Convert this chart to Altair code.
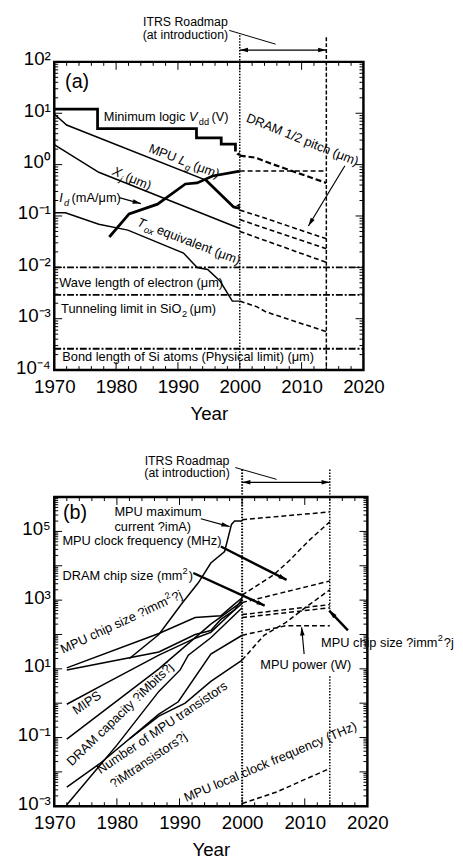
import math
import altair as alt
import pandas as pd

FONT = "Liberation Sans"

# ---------------- shared axis values ----------------
year_ticks = [1970, 1980, 1990, 2000, 2010, 2020]
minor_years = list(range(1970, 2021, 2))
itrs_years = [2000, 2014]
a_ylabels = [1e-4, 1e-3, 1e-2, 1e-1, 1, 10, 100]
b_ylabels = [1e-3, 1e-1, 10, 1e3, 1e5]

# ---------------- panel (a) data ----------------
a_vdd_year = [1970, 1977, 1977, 1993, 1993, 1997, 1997, 1999.3, 1999.3]
a_vdd_val = [12, 12, 5, 5, 3.3, 3.3, 2.5, 2.5, 1.8]
a_id_year = [1978.9, 1982.1, 1986.7, 1991.2, 1993.1, 1995.6, 2000]
a_id_val = [0.039, 0.11, 0.17, 0.42, 0.44, 0.6, 0.75]
a_lg_year = [1970, 1972, 1994.5, 1999, 2000]
a_lg_val = [9.7, 5.9, 0.5, 0.15, 0.14]
a_lg_end_year = [1994.5, 1999, 2000]
a_lg_end_val = [0.5, 0.15, 0.14]
a_xj_year = [1970, 1977.2, 2000]
a_xj_val = [2.46, 0.71, 0.057]
a_tox_year = [1970, 1971.8, 1977.2, 1981.9, 1990.9, 1993.1, 1994.8, 1996.8, 1998.8, 2000]
a_tox_val = [0.115, 0.115, 0.069, 0.053, 0.019, 0.0099, 0.0091, 0.0054, 0.0022, 0.0022]
# small markers where the history ends
a_mark_year = [1999.7, 1999.7]
a_mark_val = [1.6, 0.16]
# ITRS projections (dashed)
a_vdd_p_year = [2000, 2002.5, 2005, 2014]
a_vdd_p_val = [1.5, 1.37, 1.05, 0.44]
a_id_p_year = [2000, 2014]
a_id_p_val = [0.75, 0.75]
a_p1_year = [2000, 2003, 2014]
a_p1_val = [0.13, 0.1, 0.036]
a_p2_year = [2000, 2014]
a_p2_val = [0.085, 0.023]
a_p3_year = [2000, 2014]
a_p3_val = [0.05, 0.0125]
a_tox_p_year = [2000, 2002.8, 2004.2, 2014]
a_tox_p_val = [0.0022, 0.0017, 0.00136, 0.00056]
# physical limits
a_limit_val = [0.01, 0.0029, 0.00026]

# ---------------- panel (b) data ----------------
b_cur_year = [1982, 1986.7, 1990.5, 1993, 1995, 1997.2, 1998.3, 1998.8, 2000]
b_cur_val = [20, 100, 850, 3200, 12000, 26000, 160000, 200000, 200000]
b_mpuchip_year = [1972, 1986.7, 1992.5, 1996.6, 1998.5, 2000]
b_mpuchip_val = [10.7, 107, 310, 350, 690, 1170]
b_dramchip_year = [1972, 1986.7, 1992.5, 1995, 1996.6, 1998.8, 2000]
b_dramchip_val = [9.3, 31, 100, 130, 275, 520, 800]
b_mips_year = [1972, 1978.8, 1986.7, 1992.5, 1995, 1998.8, 2000]
b_mips_val = [0.93, 4.3, 25, 78, 115, 520, 1100]
b_clk_year = [1972, 1986.7, 1995, 2000]
b_clk_val = [0.09, 10, 200, 900]
b_dramcap_year = [1972, 1980, 1986.7, 1990.1, 1991.4, 1995, 2000]
b_dramcap_val = [0.0011, 0.06, 2.2, 9.3, 25, 80, 600]
b_tr_year = [1972, 1977.2, 1986.7, 1989.8, 1995, 2000]
b_tr_val = [0.0036, 0.017, 0.48, 1.1, 27, 95]
b_pw_year = [1982, 1986.7, 1990.9, 1995, 2000]
b_pw_val = [0.091, 0.42, 1.0, 4.3, 18]
# ITRS projections (dashed)
b_cur_p_year = [2000, 2014]
b_cur_p_val = [220000, 370000]
b_steep_p_year = [2000, 2005, 2007.6, 2010.7, 2014]
b_steep_p_val = [1400, 5400, 14500, 55000, 190000]
b_d3_p_year = [2000, 2014]
b_d3_p_val = [850, 3600]
b_d4_p_year = [2000, 2014]
b_d4_p_val = [380, 740]
b_d5_p_year = [2000, 2014]
b_d5_p_val = [310, 600]
b_pow_p_year = [2000, 2007, 2014]
b_pow_p_val = [95, 180, 180]
b_tr_p_year = [2000, 2003.5, 2007, 2011, 2014]
b_tr_p_val = [18, 95, 225, 800, 2000]
b_thz_p_year = [2000, 2005.5, 2014]
b_thz_p_val = [0.0012, 0.0026, 0.0126]

# ---------------- layout constants ----------------
W_A, H_A = 314, 313
W_B, H_B = 318, 314
DOM_A = [1e-4, 1e2]
DOM_B = [1e-3, 1e6]

CW = {
    " ": 278, "(": 333, ")": 333, "/": 278, "?": 556, "μ": 576, "²": 333,
    "A": 667, "B": 667, "C": 722, "D": 722, "E": 667, "H": 722, "I": 278, "L": 556,
    "M": 833, "N": 722, "O": 778, "P": 667, "R": 722, "S": 667, "T": 611, "U": 722,
    "V": 667, "W": 944, "X": 667, "a": 556, "b": 556, "c": 500, "d": 556, "e": 556,
    "f": 278, "g": 556, "h": 556, "i": 222, "j": 222, "k": 500, "l": 222, "m": 833,
    "n": 556, "o": 556, "p": 556, "q": 556, "r": 333, "s": 500, "t": 278, "u": 556,
    "v": 500, "w": 722, "x": 500, "y": 500, "z": 500,
}


def tw(s, size):
    return sum(CW.get(c, 556) for c in s) * size / 1000.0


def to_px(year, val, W, H, dom):
    l0, l1 = math.log10(dom[0]), math.log10(dom[1])
    return (year - 1970) / 50.0 * W, H * (l1 - math.log10(val)) / (l1 - l0)


EXP = "['⁻⁴','⁻³','⁻²','⁻¹','⁰','¹','²','³','⁴','⁵','⁶']"
LABEL_EXPR = "'10' + " + EXP + "[round(log(datum.value)/LN10) + 4]"

AX_X = alt.Axis(values=year_ticks, format="d", title="Year", ticks=False, domain=False,
                grid=False, labelFont=FONT, labelFontSize=19, labelColor="black",
                labelPadding=8, labelFlush=False, titleFont=FONT, titleFontSize=19,
                titleFontWeight="normal", titleColor="black", titlePadding=8)


def ax_y(vals):
    return alt.Axis(values=vals, labelExpr=LABEL_EXPR, title=None, ticks=False, domain=False,
                    grid=False, labelFont=FONT, labelFontSize=19, labelColor="black",
                    labelPadding=4, labelFlush=False, labelOffset=-3)


class P:
    """Holds the shared scales and axes of one panel."""

    def __init__(self, W, H, dom, yvals):
        self.W, self.H, self.dom = W, H, dom
        self.xs = alt.Scale(domain=[1970, 2020], nice=False, zero=False)
        self.ys = alt.Scale(type="log", domain=dom, nice=False)
        self.ay = ax_y(yvals)

    def X(self, f):
        return alt.X(f, type="quantitative", scale=self.xs, axis=AX_X)

    def Y(self, f):
        return alt.Y(f, type="quantitative", scale=self.ys, axis=self.ay)


def tick_layers(p, lo, hi):
    maj_y = [10.0 ** e for e in range(lo, hi + 1)]
    min_y = [m * 10.0 ** e for e in range(lo, hi) for m in range(2, 10)]
    min_x = [y for y in minor_years if y % 10]
    out = []
    for vals, L in ((year_ticks, 8), (min_x, 4)):
        base = alt.Chart(pd.DataFrame({"year": vals})).mark_rule(color="black", strokeWidth=1)
        out.append(base.encode(x=p.X("year"), y=alt.value(p.H), y2=alt.value(p.H - L)))
        out.append(base.encode(x=p.X("year"), y=alt.value(0), y2=alt.value(L)))
    for vals, L in ((maj_y, 8), (min_y, 4)):
        base = alt.Chart(pd.DataFrame({"val": vals})).mark_rule(color="black", strokeWidth=1)
        out.append(base.encode(y=p.Y("val"), x=alt.value(0), x2=alt.value(L)))
        out.append(base.encode(y=p.Y("val"), x=alt.value(p.W), x2=alt.value(p.W - L)))
    return out


def lines_layer(p, series, **mark):
    rows = []
    for name, (xx, yy) in series.items():
        for i, (a, b) in enumerate(zip(xx, yy)):
            rows.append({"s": name, "i": i, "year": a, "val": b})
    return alt.Chart(pd.DataFrame(rows)).mark_line(color="black", clip=False, **mark).encode(
        x=p.X("year"), y=p.Y("val"), detail="s:N", order="i:Q")


def text_layers(p, ax, ay, pieces, size=13, angle=0):
    out = []
    dx = 0.0
    for txt, kind in pieces:
        fs = size
        dy = size * 0.35
        style = "normal"
        extra = 0.0
        if kind in ("sub", "isub"):
            fs = size * 0.72
            dy += size * 0.28
            extra = 2.5
        if kind == "sup":
            fs = size * 0.72
            dy -= size * 0.42
            extra = 1.0
        if kind in ("i", "isub"):
            style = "italic"
            extra = max(extra, 1.2)
        d = pd.DataFrame({"x": [ax], "y": [ay], "t": [txt]})
        out.append(alt.Chart(d).mark_text(
            align="left", baseline="alphabetic", dx=dx, dy=dy, angle=angle % 360,
            fontSize=fs, fontStyle=style, font=FONT, color="black", clip=False).encode(
            x=p.X("x"), y=p.Y("y"), text="t:N"))
        dx += tw(txt, fs) + extra
    return out


HEAD = "M0,0L0.55,2L-0.55,2Z"


def arrow_layers(p, arrows, width):
    rows, heads = [], []
    for (x1, y1, x2, y2) in arrows:
        p1 = to_px(x1, y1, p.W, p.H, p.dom)
        p2 = to_px(x2, y2, p.W, p.H, p.dom)
        ang = math.degrees(math.atan2(p2[0] - p1[0], -(p2[1] - p1[1]))) % 360
        rows.append({"x": x1, "y": y1, "x2": x2, "y2": y2})
        heads.append({"x": x2, "y": y2, "a": ang})
    lines = alt.Chart(pd.DataFrame(rows)).mark_rule(color="black", strokeWidth=width, clip=False).encode(
        x=p.X("x"), y=p.Y("y"), x2="x2:Q", y2="y2:Q")
    hd = alt.Chart(pd.DataFrame(heads)).mark_point(
        shape=HEAD, filled=True, color="black", size=70, opacity=1, strokeWidth=0, clip=False).encode(
        x=p.X("x"), y=p.Y("y"), angle=alt.Angle("a:Q", scale=None))
    return [lines, hd]


def itrs_layers(p, y_text1, y_text2, slant, y_arrow, vtop, dash2000, dash2014, w2000, segs2014):
    out = []
    tx = 1991.2
    for txt, yp in (("ITRS Roadmap", y_text1), ("(at introduction)", y_text2)):
        d = pd.DataFrame({"x": [tx], "t": [txt]})
        out.append(alt.Chart(d).mark_text(align="center", baseline="middle", fontSize=12.5,
                                          font=FONT, color="black", clip=False).encode(
            x=p.X("x"), y=alt.value(yp), text="t:N"))
    d = pd.DataFrame({"x": [slant[0]], "x2": [slant[1]]})
    out.append(alt.Chart(d).mark_rule(color="black", strokeWidth=1, clip=False).encode(
        x=p.X("x"), x2="x2:Q", y=alt.value(slant[2]), y2=alt.value(slant[3])))
    d = pd.DataFrame({"x": [itrs_years[0]], "x2": [itrs_years[1]]})
    out.append(alt.Chart(d).mark_rule(color="black", strokeWidth=1.2, clip=False).encode(
        x=p.X("x"), x2="x2:Q", y=alt.value(y_arrow)))
    d = pd.DataFrame({"x": itrs_years, "a": [270, 90]})
    out.append(alt.Chart(d).mark_point(shape=HEAD, filled=True, color="black", size=70,
                                       opacity=1, strokeWidth=0, clip=False).encode(
        x=p.X("x"), y=alt.value(y_arrow), angle=alt.Angle("a:Q", scale=None)))
    d = pd.DataFrame({"x": [itrs_years[0]]})
    out.append(alt.Chart(d).mark_rule(color="black", strokeWidth=w2000, strokeDash=dash2000, clip=False).encode(
        x=p.X("x"), y=alt.value(vtop), y2=alt.value(p.H)))
    for (t0, t1) in segs2014:
        d = pd.DataFrame({"x": [itrs_years[1]]})
        out.append(alt.Chart(d).mark_rule(color="black", strokeWidth=1.5, strokeDash=dash2014, clip=False).encode(
            x=p.X("x"), y=alt.value(t0), y2=alt.value(t1)))
    return out


# ================= panel (a) =================
pa = P(W_A, H_A, DOM_A, a_ylabels)
la = tick_layers(pa, -4, 2)
la.append(lines_layer(pa, {"vdd": (a_vdd_year, a_vdd_val), "id": (a_id_year, a_id_val),
                           "lgend": (a_lg_end_year, a_lg_end_val)}, strokeWidth=2.8))
la.append(lines_layer(pa, {"lg": (a_lg_year, a_lg_val), "xj": (a_xj_year, a_xj_val),
                           "tox": (a_tox_year, a_tox_val)}, strokeWidth=1.5))
la.append(lines_layer(pa, {"vddp": (a_vdd_p_year, a_vdd_p_val)},
                      strokeWidth=2.2, strokeDash=[6, 3]))
la.append(lines_layer(pa, {"idp": (a_id_p_year, a_id_p_val), "p1": (a_p1_year, a_p1_val),
                           "p2": (a_p2_year, a_p2_val), "p3": (a_p3_year, a_p3_val),
                           "toxp": (a_tox_p_year, a_tox_p_val)},
                      strokeWidth=1.6, strokeDash=[5, 3]))
la.append(alt.Chart(pd.DataFrame({"year": a_mark_year, "val": a_mark_val})).mark_point(
    shape="triangle-left", filled=True, color="black", size=18, opacity=1).encode(
    x=pa.X("year"), y=pa.Y("val")))
la.append(alt.Chart(pd.DataFrame({"val": a_limit_val})).mark_rule(
    color="black", strokeWidth=1.8, strokeDash=[7, 2, 2, 2]).encode(
    y=pa.Y("val"), x=alt.value(0), x2=alt.value(W_A)))
la += itrs_layers(pa, -40, -27, (1998.3, 2005.8, -32, -18), -12, -27, [1.5, 1.5], [4, 2], 1.5,
                  [(-25, H_A)])
la += text_layers(pa, 1971.75, 43, [("(a)", "n")], size=20)
la += text_layers(pa, 1978.0, 8.5, [("Minimum logic ", "n"), ("V", "i"), ("dd", "sub"), ("(V)", "n")])
la += text_layers(pa, 1985.4, 2.15, [("MPU ", "n"), ("L", "i"), ("g", "isub"), ("(μm)", "n")], angle=21)
la += text_layers(pa, 1979.55, 0.78, [("X", "i"), ("j", "isub"), ("(μm)", "n")], angle=23)
la += text_layers(pa, 1970.8, 0.227, [("I", "i"), ("d", "isub"), ("(mA/μm)", "n")])
la += text_layers(pa, 1983.5, 0.079, [("T", "i"), ("ox", "isub"), (" equivalent (μm)", "n")], angle=21)
la += text_layers(pa, 2001.2, 8.45, [("DRAM 1/2 pitch (μm)", "n")], angle=22)
la += text_layers(pa, 1970.8, 0.0051, [("Wave length of electron (μm)", "n")])
la += text_layers(pa, 1971.1, 0.00155, [("Tunneling limit in SiO", "n"), ("2", "sub"), ("(μm)", "n")])
la += text_layers(pa, 1971.3, 1.86e-4, [("Bond length of Si atoms (Physical limit) (μm)", "n")])
la += arrow_layers(pa, [(1980.5, 0.227, 1984.0, 0.174), (2017.0, 0.95, 2011.1, 0.064)], 1.2)
panel_a = alt.layer(*la).properties(width=W_A, height=H_A)

# ================= panel (b) =================
pb = P(W_B, H_B, DOM_B, b_ylabels)
lb = tick_layers(pb, -3, 6)
lb.append(lines_layer(pb, {
    "cur": (b_cur_year, b_cur_val), "mpuchip": (b_mpuchip_year, b_mpuchip_val),
    "dramchip": (b_dramchip_year, b_dramchip_val), "mips": (b_mips_year, b_mips_val),
    "clk": (b_clk_year, b_clk_val), "dramcap": (b_dramcap_year, b_dramcap_val),
    "tr": (b_tr_year, b_tr_val), "pw": (b_pw_year, b_pw_val)}, strokeWidth=1.5))
lb.append(lines_layer(pb, {
    "curp": (b_cur_p_year, b_cur_p_val), "steep": (b_steep_p_year, b_steep_p_val),
    "d3": (b_d3_p_year, b_d3_p_val), "d4": (b_d4_p_year, b_d4_p_val),
    "d5": (b_d5_p_year, b_d5_p_val), "pow": (b_pow_p_year, b_pow_p_val),
    "trp": (b_tr_p_year, b_tr_p_val), "thz": (b_thz_p_year, b_thz_p_val)},
    strokeWidth=1.5, strokeDash=[5, 3]))
lb += itrs_layers(pb, -37, -24, (1998.9, 2005.5, -30, -18), -15, -28, [1.5, 1.5], [1.5, 1.5], 2,
                  [(-28, 114), (182, H_B)])
lb += text_layers(pb, 1971.4, 3.7e5, [("(b)", "n")], size=20)
lb += text_layers(pb, 1979.6, 10 ** 5.57, [("MPU maximum", "n")])
lb += text_layers(pb, 1979.6, 10 ** 5.14, [("current ?imA)", "n")])
lb += text_layers(pb, 1971.3, 10 ** 4.74, [("MPU clock frequency (MHz)", "n")])
lb += text_layers(pb, 1971.3, 10 ** 3.73, [("DRAM chip size (mm", "n"), ("2", "sup"), (")", "n")])
lb += text_layers(pb, 1971.1, 36, [("MPU chip size ?imm", "n"), ("2", "sup"), ("?j", "n")], angle=-25)
lb += text_layers(pb, 1973.1, 0.58, [("MIPS", "n")], angle=-34)
lb += text_layers(pb, 1972.3, 0.0177, [("DRAM capacity ?iMbits?j", "n")], angle=-44)
lb += text_layers(pb, 1977.0, 0.011, [("Number of MPU transistors", "n")], angle=-34)
lb += text_layers(pb, 1979.1, 0.0042, [("?iMtransistors?j", "n")], angle=-34)
lb += text_layers(pb, 1990.8, 0.00174, [("MPU local clock frequency (THz)", "n")], angle=-23)
lb += text_layers(pb, 2012.6, 60, [("MPU chip size ?imm", "n"), ("2", "sup"), ("?j", "n")])
lb += text_layers(pb, 2002.9, 13.8, [("MPU power (W)", "n")])
lb += arrow_layers(pb, [(1993.4, 10 ** 5.37, 1998.0, 10 ** 5.14), (2009.9, 10 ** 1.43, 2009.5, 10 ** 2.21)], 1.2)
lb += arrow_layers(pb, [(1996.6, 10 ** 4.56, 2007.1, 10 ** 3.59), (1992.2, 10 ** 3.79, 2003.6, 10 ** 2.84),
                        (2016.9, 10 ** 2.12, 2013.9, 10 ** 2.695)], 2.4)
panel_b = alt.layer(*lb).properties(width=W_B, height=H_B)

chart = alt.vconcat(panel_a, panel_b, spacing=28).properties(
    padding={"left": 6, "top": 0, "right": 0, "bottom": 0}
).configure_view(stroke="black", strokeWidth=2.5)

chart.save("out.html", embed_options={"renderer": "svg", "actions": False})
